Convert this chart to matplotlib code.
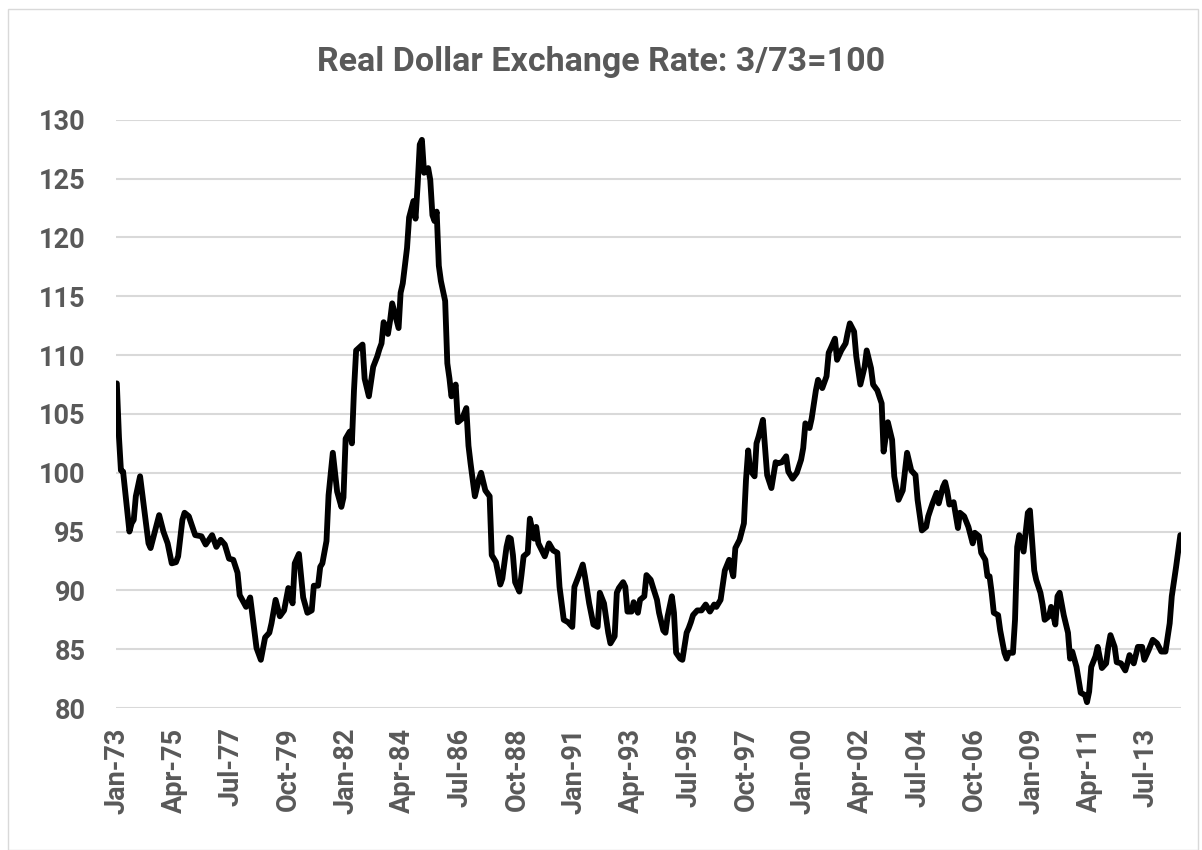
import pandas as pd
import matplotlib.pyplot as plt
from matplotlib.patches import Rectangle

# monthly readings of the real dollar index (3/73 = 100), one row per year
dates = [
    "1973-01", "1973-02", "1973-03", "1973-04", "1973-07", "1973-08", "1973-09", "1973-10", "1973-12",
    "1974-02", "1974-04", "1974-05", "1974-06", "1974-09", "1974-11",
    "1975-01", "1975-03", "1975-05", "1975-06", "1975-08", "1975-09", "1975-11",
    "1976-02", "1976-05", "1976-07", "1976-10", "1976-12",
    "1977-02", "1977-04", "1977-06", "1977-08", "1977-10", "1977-11",
    "1978-02", "1978-04", "1978-07", "1978-09", "1978-11",
    "1979-01", "1979-02", "1979-04", "1979-06", "1979-08", "1979-10", "1979-12",
    "1980-01", "1980-03", "1980-05", "1980-07", "1980-09", "1980-10", "1980-12",
    "1981-01", "1981-02", "1981-04", "1981-05", "1981-07", "1981-09", "1981-11", "1981-12",
    "1982-01", "1982-03", "1982-04", "1982-05", "1982-06", "1982-09", "1982-10", "1982-12",
    "1983-02", "1983-04", "1983-05", "1983-06", "1983-07", "1983-09", "1983-10", "1983-11",
    "1984-02", "1984-03", "1984-04", "1984-06", "1984-07", "1984-09", "1984-10", "1984-11", "1984-12",
    "1985-01", "1985-02", "1985-04", "1985-05", "1985-06", "1985-07", "1985-08", "1985-09", "1985-10", "1985-12",
    "1986-01", "1986-02", "1986-03", "1986-05", "1986-06", "1986-08", "1986-10", "1986-11", "1986-12",
    "1987-02", "1987-04", "1987-05", "1987-07", "1987-09", "1987-10", "1987-12",
    "1988-02", "1988-03", "1988-05", "1988-06", "1988-07", "1988-08", "1988-09", "1988-11", "1988-12",
    "1989-01", "1989-03", "1989-04", "1989-06", "1989-07", "1989-08", "1989-11",
    "1990-01", "1990-03", "1990-05", "1990-06", "1990-08", "1990-10", "1990-12",
    "1991-01", "1991-03", "1991-05", "1991-06", "1991-08", "1991-10", "1991-12",
    "1992-01", "1992-03", "1992-05", "1992-06", "1992-08", "1992-09", "1992-10", "1992-12",
    "1993-01", "1993-02", "1993-04", "1993-05", "1993-07", "1993-08", "1993-10", "1993-11",
    "1994-01", "1994-02", "1994-04", "1994-05", "1994-07", "1994-08", "1994-09", "1994-11", "1994-12",
    "1995-01", "1995-03", "1995-04", "1995-06", "1995-07", "1995-08", "1995-09", "1995-11",
    "1996-01", "1996-03", "1996-05", "1996-07", "1996-08", "1996-10", "1996-12",
    "1997-02", "1997-04", "1997-05", "1997-07", "1997-09", "1997-10", "1997-11", "1997-12",
    "1998-02", "1998-03", "1998-04", "1998-06", "1998-07", "1998-08", "1998-10", "1998-12",
    "1999-01", "1999-03", "1999-05", "1999-06", "1999-08", "1999-10", "1999-12",
    "2000-01", "2000-02", "2000-04", "2000-05", "2000-07", "2000-08", "2000-10", "2000-12",
    "2001-01", "2001-02", "2001-04", "2001-05", "2001-07", "2001-09", "2001-10", "2001-11",
    "2002-01", "2002-02", "2002-04", "2002-06", "2002-07", "2002-09", "2002-10", "2002-12",
    "2003-02", "2003-03", "2003-05", "2003-07", "2003-08", "2003-10", "2003-12",
    "2004-02", "2004-04", "2004-06", "2004-07", "2004-09", "2004-11", "2004-12",
    "2005-02", "2005-04", "2005-05", "2005-07", "2005-08", "2005-09", "2005-10", "2005-12",
    "2006-02", "2006-03", "2006-05", "2006-07", "2006-09", "2006-10", "2006-12",
    "2007-01", "2007-03", "2007-04", "2007-05", "2007-06", "2007-07", "2007-09", "2007-10", "2007-12",
    "2008-01", "2008-02", "2008-04", "2008-05", "2008-06", "2008-07", "2008-09", "2008-11", "2008-12",
    "2009-01", "2009-02", "2009-03", "2009-05", "2009-06", "2009-07", "2009-09", "2009-10", "2009-11", "2009-12",
    "2010-01", "2010-02", "2010-04", "2010-06", "2010-07", "2010-08", "2010-10", "2010-11", "2010-12",
    "2011-02", "2011-03", "2011-04", "2011-05", "2011-07", "2011-08", "2011-10", "2011-12",
    "2012-01", "2012-02", "2012-04", "2012-05", "2012-07", "2012-09", "2012-10", "2012-11",
    "2013-01", "2013-03", "2013-05", "2013-06", "2013-08", "2013-10", "2013-12",
    "2014-02", "2014-04", "2014-06", "2014-07", "2014-09", "2014-11",
]
values = [
    107.6, 103.0, 100.2, 100.1, 95.0, 95.7, 96.0, 98.0, 99.7,
    96.8, 94.0, 93.6, 94.3, 96.4, 95.0,
    94.0, 92.3, 92.4, 92.9, 96.0, 96.6, 96.3,
    94.7, 94.6, 93.9, 94.7, 93.7,
    94.3, 93.9, 92.7, 92.6, 91.5, 89.6,
    88.6, 89.4, 85.1, 84.1, 86.0,
    86.4, 87.2, 89.2, 87.8, 88.3, 90.2, 88.9,
    92.3, 93.1, 89.4, 88.1, 88.3, 90.4, 90.4,
    92.0, 92.3, 94.2, 98.1, 101.7, 98.4, 97.1, 97.9,
    102.9, 103.5, 102.5, 107.0, 110.4, 110.9, 108.0, 106.5,
    109.0, 109.9, 110.5, 111.0, 112.8, 111.8, 112.9, 114.4,
    112.3, 115.3, 116.1, 119.1, 121.7, 123.1, 121.6, 124.5, 127.9,
    128.3, 125.5, 125.9, 124.9, 121.9, 121.4, 122.2, 117.6, 116.3, 114.6,
    109.3, 108.0, 106.5, 107.5, 104.3, 104.6, 105.5, 102.3, 100.8,
    98.0, 99.5, 100.0, 98.5, 98.0, 93.0, 92.4,
    90.5, 91.0, 93.7, 94.5, 94.4, 93.0, 90.7, 89.9, 91.3,
    92.9, 93.2, 96.1, 94.4, 95.4, 94.0, 92.9,
    94.0, 93.4, 93.2, 90.3, 87.5, 87.3, 86.9,
    90.3, 91.2, 92.2, 91.2, 88.9, 87.1, 86.9,
    89.8, 88.9, 86.4, 85.5, 86.1, 89.8, 90.2, 90.7,
    90.3, 88.2, 88.2, 89.0, 88.1, 89.2, 89.5, 91.3,
    90.9, 90.3, 89.2, 88.1, 86.6, 86.4, 87.8, 89.5, 88.1,
    84.7, 84.2, 84.1, 86.4, 86.8, 87.3, 87.9, 88.3,
    88.3, 88.8, 88.2, 88.8, 88.6, 89.2, 91.7,
    92.6, 91.2, 93.6, 94.3, 95.7, 99.4, 101.9, 100.2,
    99.7, 102.5, 103.1, 104.5, 102.2, 99.8, 98.7, 100.9,
    100.8, 100.9, 101.4, 100.1, 99.5, 100.0, 101.1,
    102.1, 104.2, 103.8, 104.6, 107.0, 107.9, 107.2, 108.2,
    110.2, 110.6, 111.4, 109.6, 110.4, 111.0, 111.9, 112.7,
    112.0, 109.9, 107.5, 109.0, 110.4, 108.9, 107.5, 107.0,
    105.9, 101.8, 104.3, 102.8, 99.7, 97.7, 98.5,
    101.7, 100.2, 99.8, 97.7, 95.1, 95.4, 96.3,
    97.4, 98.3, 97.4, 98.8, 99.2, 98.4, 97.3, 97.5,
    95.3, 96.6, 96.3, 95.4, 94.0, 94.9, 94.6,
    93.2, 92.6, 91.2, 91.2, 89.8, 88.1, 87.9, 86.6, 84.7,
    84.2, 84.7, 84.7, 87.5, 93.7, 94.7, 93.3, 96.6, 96.8,
    94.3, 91.7, 90.9, 89.8, 88.8, 87.5, 87.8, 88.6, 87.9, 87.1,
    89.5, 89.8, 87.9, 86.4, 84.2, 84.8, 83.5, 82.4, 81.3,
    81.1, 80.5, 81.4, 83.5, 84.4, 85.2, 83.4, 83.8,
    85.2, 86.2, 85.2, 83.9, 83.8, 83.2, 83.8, 84.5,
    83.8, 85.2, 85.2, 84.1, 84.9, 85.8, 85.5,
    84.8, 84.8, 87.2, 89.5, 92.0, 94.7,
]
tick_dates = pd.date_range("1973-01-01", "2013-07-01", freq="27MS")
tick_labels = [d.strftime("%b-%y") for d in tick_dates]
title = "Real Dollar Exchange Rate: 3/73=100"

x = pd.to_datetime(dates)
grey = "#595959"
plt.rcParams["font.family"] = ["Roboto", "DejaVu Sans"]
plt.rcParams["font.weight"] = "bold"

fig = plt.figure(figsize=(12.02, 8.5), dpi=100)
ax = fig.add_axes([0.0965, 0.167, 0.886, 0.692])

ax.plot(x, values, color="black", linewidth=4.2, solid_joinstyle="round",
        solid_capstyle="round", zorder=3)

ax.set_ylim(80, 130)
ax.set_yticks(range(80, 131, 5))
ax.set_xlim(pd.Timestamp("1972-12-20"), pd.Timestamp("2014-11-10"))
ax.set_xticks(tick_dates)
ax.set_xticklabels(tick_labels, rotation=90)
ax.grid(axis="y", color="#d9d9d9", linewidth=1.5, zorder=0)
ax.grid(axis="x", visible=False)
for s in ax.spines.values():
    s.set_visible(False)
ax.tick_params(length=0, colors=grey, labelsize=19.5)
ax.tick_params(axis="y", pad=22)
ax.tick_params(axis="x", pad=14)
for lbl in ax.get_xticklabels() + ax.get_yticklabels():
    lbl.set_fontweight("bold")

fig.text(0.5, 0.927, title, ha="center", va="center", fontsize=24.5,
         fontweight="bold", color=grey)
fig.patches.append(Rectangle((0.007, 0.0), 0.99, 0.99, transform=fig.transFigure,
                             fill=False, edgecolor="#d9d9d9", linewidth=1))

fig.savefig("out.png", dpi=100, facecolor="white")
